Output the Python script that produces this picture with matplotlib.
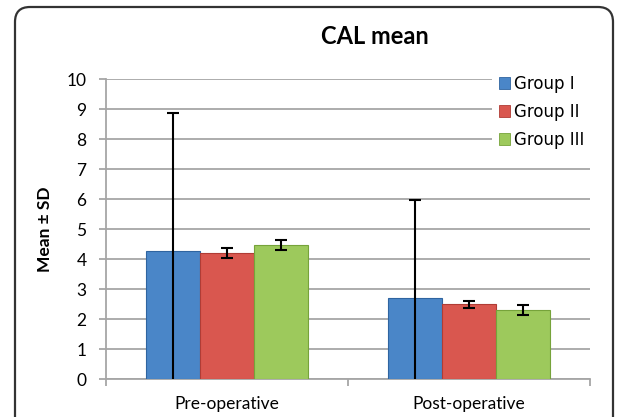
import matplotlib
matplotlib.use("Agg")
import matplotlib.pyplot as plt
import numpy as np
from matplotlib.patches import FancyBboxPatch, Patch
from matplotlib.transforms import IdentityTransform

categories = ["Pre-operative", "Post-operative"]
groups = ["Group I", "Group II", "Group III"]
means = {
    "Group I": [4.28, 2.71],
    "Group II": [4.19, 2.49],
    "Group III": [4.48, 2.30],
}
sds = {
    "Group I": [4.57, 3.26],
    "Group II": [0.17, 0.11],
    "Group III": [0.17, 0.16],
}
yticks = list(range(0, 11))

colors = ["#4a86c8", "#d9574f", "#9dc95c"]
edges = ["#2f64a0", "#b03c35", "#76a33a"]

W, H = 617, 417
fig = plt.figure(figsize=(W / 100, H / 100), dpi=100)
fig.patch.set_facecolor("white")

# rounded outer border (pixel coordinates, origin bottom-left)
border = FancyBboxPatch((15, -30), 613 - 15, H - 7 + 30,
                        boxstyle="round,pad=0,rounding_size=15",
                        transform=IdentityTransform(), fill=False,
                        edgecolor="#333333", linewidth=1.6, clip_on=False)
fig.patches.append(border)

ax = fig.add_axes([106 / W, 1 - 379 / H, (590 - 106) / W, 300 / H])
ax.set_facecolor("none")

x = np.arange(len(categories))
bw = 0.223
for i, g in enumerate(groups):
    pos = x + (i - 1) * bw
    ax.bar(pos, means[g], width=bw, color=colors[i], edgecolor=edges[i],
           linewidth=0.8, zorder=3, label=g)
    ax.errorbar(pos, means[g], yerr=sds[g], fmt="none", ecolor="black",
                elinewidth=1.5, capsize=4.3, capthick=1.5, zorder=4)

ax.set_xlim(-0.5, 1.5)
ax.set_ylim(0, 10)
ax.set_yticks(yticks)
ax.yaxis.grid(True, color="#a6a6a6", linewidth=1.3, zorder=0)
ax.set_axisbelow(True)
for s in ["top", "right"]:
    ax.spines[s].set_visible(False)
for s in ["left", "bottom"]:
    ax.spines[s].set_color("#a6a6a6")
    ax.spines[s].set_linewidth(1.3)

tickfont = dict(family="Lato", size=12.5)
ax.set_xticks(x)
ax.set_xticklabels(categories, fontdict=tickfont)
ax.set_xticks([-0.5, 0.5, 1.5], minor=True)
ax.tick_params(axis="x", which="major", length=0, pad=12)
ax.tick_params(axis="x", which="minor", length=5, color="#a6a6a6", width=1.3)
ax.tick_params(axis="y", length=5, color="#a6a6a6", width=1.3, pad=9)
for lab in ax.get_yticklabels():
    lab.set_fontfamily("Lato")
    lab.set_fontsize(12.5)

ax.set_ylabel("Mean ± SD", fontfamily="Lato", fontweight="bold", fontsize=12.5,
              labelpad=10)

fig.text(375 / W, 1 - 37 / H, "CAL mean", ha="center", va="center",
         fontfamily="Lato", fontweight="bold", fontsize=17)

handles = [Patch(facecolor=colors[i], edgecolor=edges[i], linewidth=0.6)
           for i in range(3)]
leg = ax.legend(handles, groups, loc="upper left",
                bbox_to_anchor=(492 / W, 1 - 68 / H),
                bbox_transform=fig.transFigure,
                prop=dict(family="DejaVu Sans", size=12),
                handlelength=0.7, handleheight=0.7, handletextpad=0.25,
                labelspacing=0.6, borderpad=0.4, borderaxespad=0,
                frameon=True, fancybox=False)
leg.get_frame().set_facecolor("white")
leg.get_frame().set_edgecolor("none")
leg.get_frame().set_alpha(1)
leg.set_zorder(5)

fig.savefig("out.png", dpi=100)
